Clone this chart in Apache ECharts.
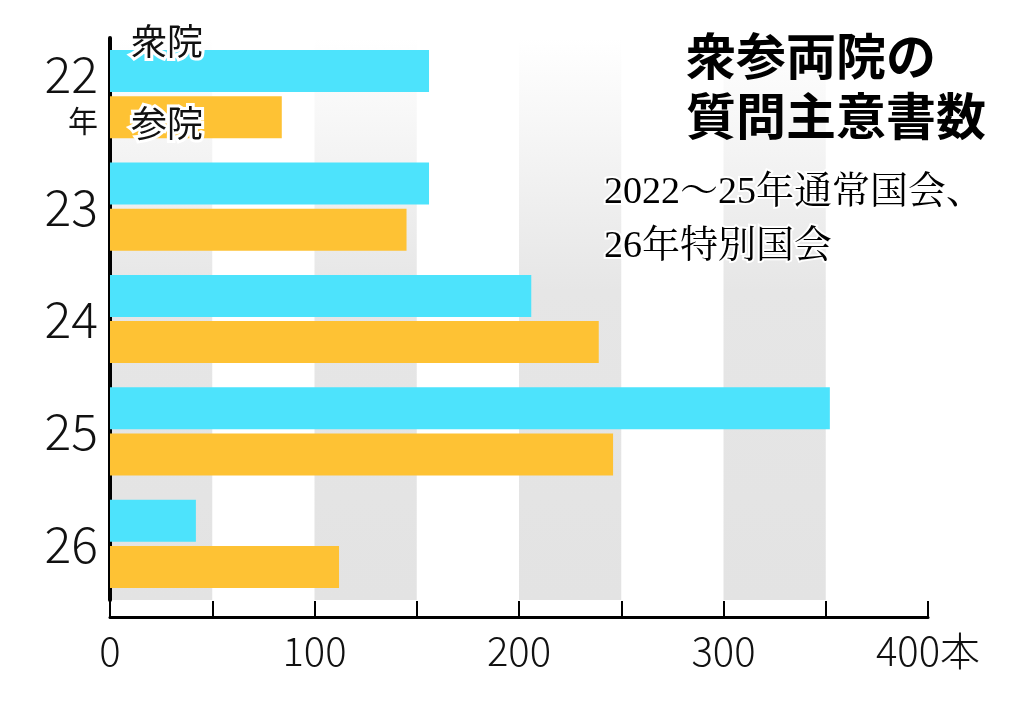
<!DOCTYPE html><html><head><meta charset="utf-8">
<script src="https://cdn.jsdelivr.net/npm/echarts@6/dist/echarts.min.js"></script>
<style>html,body{margin:0;background:#fff}#c{width:1024px;height:701px}</style></head><body><div id="c"></div>
<script>
const categories=['22','23','24','25','26'];
const shuin=[156,156,206,352,42];
const sanin=[84,145,239,246,112];
const xTicks=[0,100,200,300,400];
const chart=echarts.init(document.getElementById('c'));
const grad={type:'linear',x:0,y:0,x2:0,y2:1,colorStops:[{offset:0,color:'#ffffff'},{offset:0.45,color:'#e6e6e6'},{offset:1,color:'#e3e3e3'}]};
chart.setOption({
 animation:false,
 grid:{left:110,right:96,top:38,bottom:101},
 xAxis:{type:'value',min:0,max:400,interval:50,offset:17,
  axisLine:{show:true,lineStyle:{color:'#000',width:3}},
  axisTick:{show:true,inside:true,length:16,lineStyle:{color:'#000',width:2}},
  splitLine:{show:false},
  splitArea:{show:true,areaStyle:{color:[grad,'rgba(0,0,0,0)']}},
  axisLabel:{margin:14,fontSize:40,fontFamily:'Noto Sans CJK JP',fontWeight:300,color:'#111',
   formatter:v=>xTicks.includes(v)?(v===400?'400本':String(v)):''}},
 yAxis:{type:'category',inverse:true,data:categories,
  axisLine:{show:true,lineStyle:{color:'#000',width:4}},axisTick:{show:false},
  axisLabel:{margin:12,fontFamily:'Noto Sans CJK JP',color:'#111',
   formatter:(v,i)=>i===0?'{a|22}\n{b|年}':'{a|'+v+'}',
   rich:{a:{fontSize:50,fontWeight:300,lineHeight:52},b:{fontSize:30,lineHeight:40,align:'right'}}}},
 series:[
  {type:'bar',data:shuin,barWidth:42,barGap:'10%',itemStyle:{color:'#4de3fc'}},
  {type:'bar',data:sanin,barWidth:42,itemStyle:{color:'#fec234'}}
 ],
 graphic:[
  {type:'text',z:100,left:128,top:20,style:{text:'衆院',fontSize:36,fontFamily:'Noto Sans CJK JP',fill:'#111',stroke:'#fff',lineWidth:6}},
  {type:'text',z:100,left:128,top:102,style:{text:'参院',fontSize:36,fontFamily:'Noto Sans CJK JP',fill:'#111',stroke:'#fff',lineWidth:6}},
  {type:'text',z:100,right:38,top:26,style:{text:'衆参両院の\n質問主意書数',align:'right',fontSize:50,lineHeight:60,fontWeight:'bold',fontFamily:'Noto Sans CJK JP',fill:'#000'}},
  {type:'text',z:100,right:38,top:166,style:{text:'2022～25年通常国会、\n26年特別国会',align:'right',fontSize:38,lineHeight:54,fontFamily:'Liberation Serif, Noto Serif CJK JP, serif',fill:'#000',stroke:'#fff',lineWidth:4}}
 ]
});
</script></body></html>
